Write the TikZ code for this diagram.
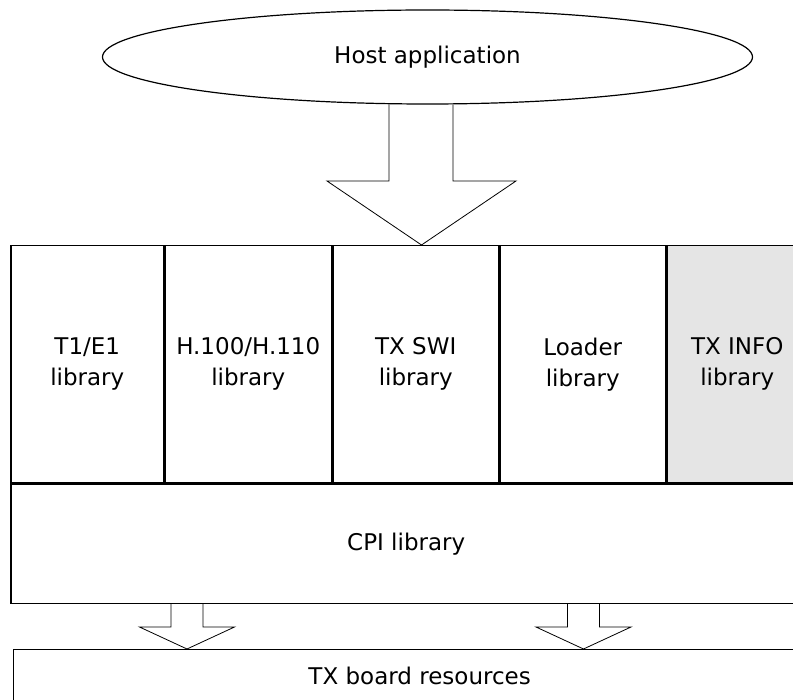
\documentclass[tikz,border=0pt]{standalone}
\usepackage{fontspec}
\setmainfont{DejaVu Sans}
\usetikzlibrary{shapes.geometric}
\tikzset{
	libbox/.style={draw, line width=1.5pt, inner sep=0pt, align=center, anchor=north west, minimum height=237pt},
	flow/.style={draw, line width=0.8pt},
}
\begin{document}
\begin{tikzpicture}[x=1pt, y=-1pt, font=\fontsize{23}{31}\selectfont]
		\useasboundingbox (0, 0) rectangle (793, 700);
		\node[draw, ellipse, line width=1.2pt, inner sep=0pt, minimum width=650pt, minimum height=94pt] (host) at (427.5, 57) {Host application};
		% library row
		\node[libbox, minimum width=153pt] (t1) at (10, 245) {T1/E1\\library};
		\node[libbox, minimum width=166pt] (h100) at (t1.north east) {H.100/H.110\\library};
		\node[libbox, minimum width=166pt] (swi) at (h100.north east) {TX SWI\\library};
		\node[libbox, minimum width=165pt] (loader) at (swi.north east) {Loader\\library};
		\node[libbox, minimum width=141pt, fill=gray!20] (info) at (loader.north east) {TX INFO\\library};
		\node[libbox, minimum width=791pt, minimum height=119pt] (cpi) at (t1.south west) {CPI library};
		\node[libbox, line width=1.3pt, minimum width=812pt, minimum height=53pt] (board) at (13, 649) {TX board resources};
		% block arrows
		\draw[flow] (host.south -| 389, 0) -- (389, 181) -- (327, 181) -- (swi.north -| 421.5, 0) -- (516, 181) -- (453, 181) -- (host.south -| 453, 0);
		\foreach \x in {187, 583.5}{
			\draw[flow] (cpi.south -| \x-16, 0) -- (\x-16, 627) -- (\x-47.5, 627) -- (board.north -| \x, 0) -- (\x+47.5, 627) -- (\x+16, 627) -- (cpi.south -| \x+16, 0);
		}
	\end{tikzpicture}
\end{document}
